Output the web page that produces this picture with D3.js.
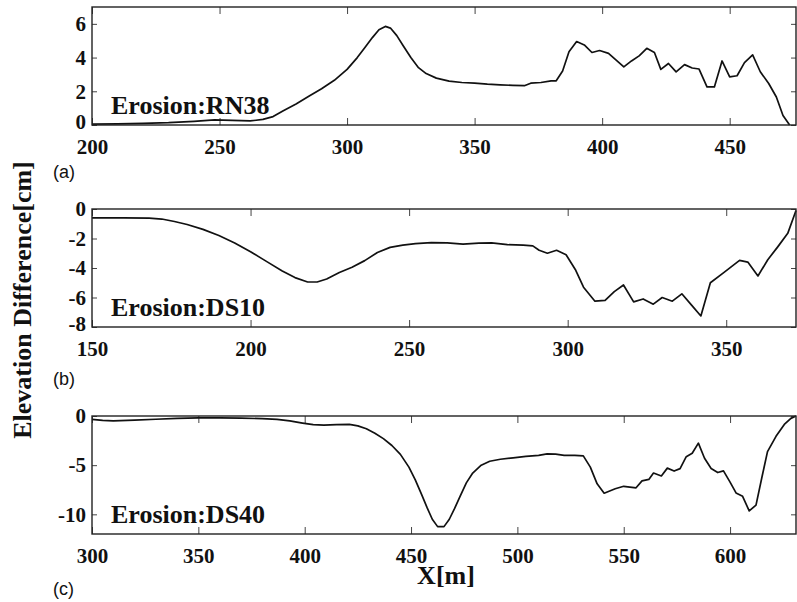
<!DOCTYPE html>
<html>
<head>
<meta charset="utf-8">
<script src="https://cdn.jsdelivr.net/npm/d3@7"></script>
<style>
  body { margin: 0; background: #fff; }
  svg { display: block; }
  .tick line { stroke: #444; stroke-width: 1; }
  .tick text { font-family: "Liberation Serif", "Times New Roman", serif; font-weight: bold; font-size: 21px; fill: #111; }
</style>
</head>
<body>
<svg width="797" height="602"></svg>
<script>
// panel (a) Erosion:RN38
var xA = [200, 210, 220, 230, 240, 248, 255, 262, 267, 271, 275, 280, 285, 290, 295, 300, 304, 307, 310, 312.5, 315, 317, 319.5, 322, 325, 328, 331, 335, 340, 345, 350, 355, 360, 365, 369.5, 372, 376, 380, 382, 384.5, 387, 390, 393, 396, 399, 402.5, 405.5, 408.5, 411.5, 414.5, 417.5, 420.5, 423, 426, 429, 432.3, 435.3, 438, 441.1, 444, 447, 450, 452.9, 455.8, 459, 462, 465.3, 468.3, 470.9, 473.5];
var yA = [0.05, 0.07, 0.1, 0.14, 0.22, 0.3, 0.27, 0.24, 0.33, 0.5, 0.85, 1.25, 1.7, 2.15, 2.65, 3.3, 4.0, 4.6, 5.2, 5.65, 5.85, 5.75, 5.3, 4.7, 4.0, 3.4, 3.05, 2.78, 2.6, 2.52, 2.48, 2.42, 2.38, 2.35, 2.33, 2.48, 2.52, 2.62, 2.62, 3.2, 4.35, 4.95, 4.75, 4.3, 4.42, 4.25, 3.85, 3.45, 3.8, 4.1, 4.55, 4.3, 3.3, 3.65, 3.15, 3.58, 3.38, 3.32, 2.26, 2.26, 3.8, 2.86, 2.92, 3.7, 4.16, 3.16, 2.46, 1.66, 0.56, 0];

// panel (b) Erosion:DS10
var xB = [150, 160, 168, 172, 176, 180, 185, 190, 195, 200, 205, 210, 214, 218, 221, 224, 228, 232, 236, 240, 244, 248, 252, 257, 262, 267, 272, 276, 281, 286, 289, 291, 293.6, 296.5, 299.5, 302.4, 305, 308.6, 311.8, 314.7, 317.6, 320.8, 323.8, 327, 329.8, 333, 336, 339, 342, 345, 349, 354.2, 356.8, 360, 363.1, 366.3, 369.4, 372];
var yB = [-0.6, -0.6, -0.62, -0.68, -0.85, -1.05, -1.38, -1.8, -2.3, -2.9, -3.55, -4.2, -4.65, -4.95, -4.95, -4.75, -4.3, -3.95, -3.5, -2.95, -2.6, -2.45, -2.35, -2.28, -2.3, -2.38, -2.32, -2.3, -2.42, -2.45, -2.5, -2.8, -3.0, -2.8, -3.1, -4.1, -5.3, -6.25, -6.2, -5.6, -5.15, -6.3, -6.1, -6.45, -6.0, -6.25, -5.75, -6.5, -7.25, -5.0, -4.35, -3.48, -3.6, -4.54, -3.44, -2.55, -1.65, -0.1];

// panel (c) Erosion:DS40
var xC = [300, 305, 310, 320, 330, 340, 350, 360, 370, 380, 387, 393, 399, 404, 409, 415, 421, 425, 429, 433, 437, 441, 445, 449, 452, 455, 457.5, 460, 462.5, 465.5, 468, 470.5, 473, 476, 479, 483, 487, 492, 498, 504, 510, 514, 518, 522, 527, 531, 534.3, 537.5, 540.8, 546, 550, 555.8, 558.6, 561.8, 564, 567.7, 570.5, 573.7, 576.5, 579.4, 582.2, 585.1, 588, 591.1, 594.2, 596.9, 600, 602.8, 605.9, 609, 612.2, 615, 617.6, 621.6, 625.5, 628.6, 631];
var yC = [-0.35, -0.45, -0.5, -0.42, -0.33, -0.25, -0.2, -0.2, -0.22, -0.27, -0.35, -0.5, -0.72, -0.88, -0.93, -0.88, -0.85, -1.0, -1.3, -1.75, -2.3, -3.0, -3.9, -5.2, -6.5, -8.0, -9.3, -10.5, -11.25, -11.25, -10.5, -9.4, -8.2, -6.8, -5.8, -5.0, -4.6, -4.4, -4.25, -4.1, -4.0, -3.85, -3.88, -4.0, -4.0, -4.05, -5.2, -6.9, -7.85, -7.4, -7.15, -7.3, -6.6, -6.45, -5.8, -6.1, -5.3, -5.6, -5.35, -4.14, -3.79, -2.76, -4.3, -5.34, -5.75, -5.58, -6.72, -7.82, -8.17, -9.65, -9.06, -6.2, -3.62, -2.07, -0.86, -0.24, 0];

var panelNames = ["Erosion:RN38", "Erosion:DS10", "Erosion:DS40"];
var panelTags = ["(a)", "(b)", "(c)"];
var xDomains = [[200, 476], [150, 372], [300, 631]];
var yDomains = [[0, 7], [-8, 0], [-12, 0]];
var xTickVals = [[200, 250, 300, 350, 400, 450], [150, 200, 250, 300, 350], [300, 350, 400, 450, 500, 550, 600]];
var yTickVals = [[0, 2, 4, 6], [-8, -6, -4, -2, 0], [-10, -5, 0]];

var svg = d3.select("svg");
var left = 92, right = 796;
var tops = [7, 209, 416];
var h = 118;
var tagY = [178, 385, 595];
var series = [[xA, yA], [xB, yB], [xC, yC]];

var serif = "'Liberation Serif', 'Times New Roman', serif";

series.forEach(function(s, i) {
  var x = d3.scaleLinear().domain(xDomains[i]).range([left, right]);
  var y = d3.scaleLinear().domain(yDomains[i]).range([tops[i] + h, tops[i]]);
  var pts = s[0].map(function(v, j) { return [v, s[1][j]]; });

  var g = svg.append("g");

  // inward ticks on all four sides, labels only bottom and left
  g.append("g")
      .attr("class", "xlab")
      .attr("transform", "translate(0," + (tops[i] + h) + ")")
      .call(d3.axisBottom(x).tickValues(xTickVals[i]).tickSize(-7).tickPadding(14).tickFormat(function(d) { return String(d); }));
  g.append("g")
      .attr("transform", "translate(0," + tops[i] + ")")
      .call(d3.axisTop(x).tickValues(xTickVals[i]).tickSize(-7).tickFormat(""));
  g.append("g")
      .attr("class", "ylab")
      .attr("transform", "translate(" + left + ",0)")
      .call(d3.axisLeft(y).tickValues(yTickVals[i]).tickSize(-5).tickPadding(6).tickFormat(function(d) { return String(d); }));
  g.append("g")
      .attr("transform", "translate(" + right + ",0)")
      .call(d3.axisRight(y).tickValues(yTickVals[i]).tickSize(-5).tickFormat(""));

  g.selectAll(".domain").remove();
  g.selectAll(".tick text").attr("fill", "#111");

  // the lowest y label sits just over the first x label, nudge it up a little
  g.selectAll(".ylab .tick text")
      .filter(function(d) { return d === yDomains[i][0]; })
      .attr("dy", "0.15em");

  g.append("path")
      .datum(pts)
      .attr("fill", "none")
      .attr("stroke", "#111")
      .attr("stroke-width", 1.7)
      .attr("stroke-linejoin", "round")
      .attr("d", d3.line().x(function(d) { return x(d[0]); }).y(function(d) { return y(d[1]); }));

  g.append("rect")
      .attr("x", left)
      .attr("y", tops[i])
      .attr("width", right - left)
      .attr("height", h)
      .attr("fill", "none")
      .attr("stroke", "#222")
      .attr("stroke-width", 1.4);

  g.append("text")
      .attr("x", 111)
      .attr("y", tops[i] + h - 11)
      .style("font-family", serif)
      .style("font-weight", "bold")
      .style("font-size", "26px")
      .attr("fill", "#111")
      .text(panelNames[i]);

  svg.append("text")
      .attr("x", 53)
      .attr("y", tagY[i])
      .style("font-family", "'Liberation Sans', Arial, sans-serif")
      .style("font-size", "18px")
      .attr("fill", "#111")
      .text(panelTags[i]);
});

svg.append("text")
    .attr("transform", "translate(31,300) rotate(-90)")
    .attr("text-anchor", "middle")
    .style("font-family", serif)
    .style("font-weight", "bold")
    .style("font-size", "26px")
    .attr("fill", "#111")
    .text("Elevation Difference[cm]");

svg.append("text")
    .attr("x", 446)
    .attr("y", 584)
    .attr("text-anchor", "middle")
    .style("font-family", serif)
    .style("font-weight", "bold")
    .style("font-size", "26px")
    .attr("fill", "#111")
    .text("X[m]");
</script>
</body>
</html>
